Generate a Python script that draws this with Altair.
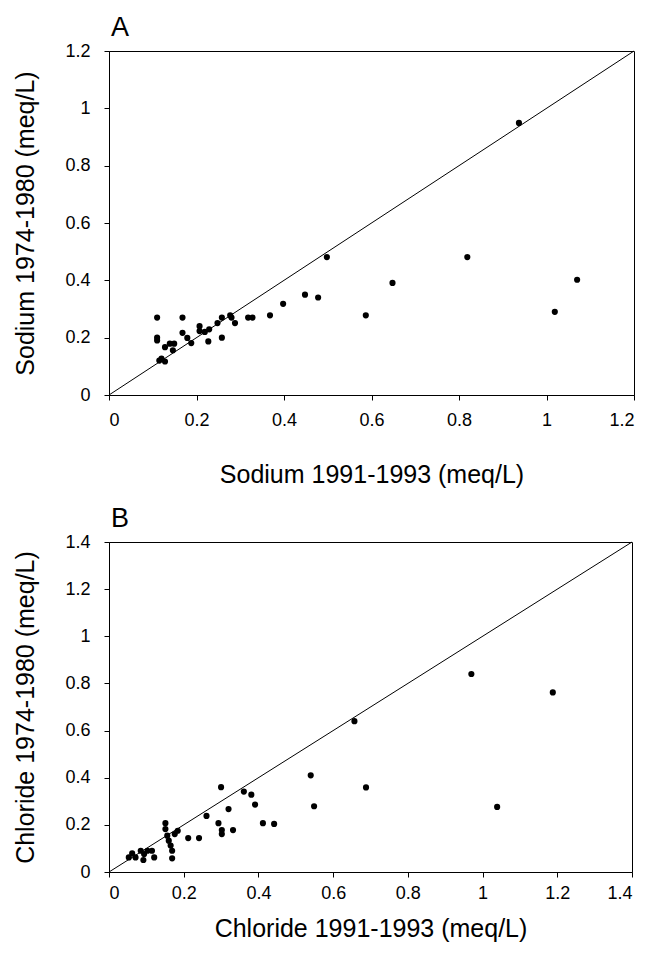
import altair as alt
import pandas as pd

# Panel A: sodium
na_1991 = [0.11, 0.11, 0.11, 0.115, 0.12, 0.128, 0.128, 0.139, 0.149, 0.146,
           0.168, 0.168, 0.179, 0.188, 0.207, 0.207, 0.219, 0.229, 0.227, 0.248,
           0.258, 0.258, 0.277, 0.28, 0.288, 0.318, 0.328, 0.368, 0.398, 0.448,
           0.478, 0.498, 0.587, 0.648, 0.819, 0.937, 1.019, 1.07]
na_1974 = [0.27, 0.20, 0.19, 0.12, 0.127, 0.117, 0.167, 0.179, 0.179, 0.156,
           0.27, 0.217, 0.199, 0.181, 0.24, 0.223, 0.22, 0.229, 0.187, 0.251,
           0.27, 0.20, 0.278, 0.27, 0.251, 0.27, 0.27, 0.278, 0.318, 0.35,
           0.34, 0.481, 0.278, 0.391, 0.481, 0.949, 0.29, 0.402]

# Panel B: chloride
cl_1991 = [0.30, 0.361, 0.381, 0.391, 0.32, 0.261, 0.293, 0.302, 0.302, 0.332,
           0.412, 0.442, 0.212, 0.241, 0.151, 0.151, 0.156, 0.160, 0.165, 0.169,
           0.169, 0.184, 0.176, 0.053, 0.062, 0.071, 0.085, 0.094, 0.092, 0.103,
           0.115, 0.121, 0.54, 0.549, 0.657, 0.688, 1.039, 1.188, 0.97]
cl_1974 = [0.36, 0.341, 0.328, 0.286, 0.267, 0.238, 0.207, 0.178, 0.161, 0.178,
           0.207, 0.204, 0.144, 0.144, 0.207, 0.182, 0.154, 0.133, 0.112, 0.09,
           0.058, 0.175, 0.161, 0.062, 0.079, 0.062, 0.09, 0.076, 0.051, 0.09,
           0.09, 0.062, 0.41, 0.279, 0.64, 0.359, 0.276, 0.762, 0.84]

ticks_a = [0, 0.2, 0.4, 0.6, 0.8, 1, 1.2]
ticks_b = [0, 0.2, 0.4, 0.6, 0.8, 1, 1.2, 1.4]

FONT = "Liberation Sans"


def panel(xs, ys, ticks, xtitle, ytitle, label, w, h, xlabpad, xtitlepad):
    pts = pd.DataFrame({"x": xs, "y": ys})
    diag = pd.DataFrame({"x": [ticks[0], ticks[-1]], "y": [ticks[0], ticks[-1]]})
    sc = alt.Scale(domain=[ticks[0], ticks[-1]], nice=False, zero=True)
    xax = alt.Axis(values=ticks, format="~g", title=xtitle,
                   labelPadding=xlabpad, titlePadding=xtitlepad)
    yax = alt.Axis(values=ticks, format="~g", title=ytitle,
                   labelPadding=14, titlePadding=26)
    line = alt.Chart(diag).mark_line(color="black", strokeWidth=1).encode(
        x=alt.X("x:Q", scale=sc, axis=xax),
        y=alt.Y("y:Q", scale=sc, axis=yax),
    )
    dots = alt.Chart(pts).mark_circle(size=38, color="black", opacity=1).encode(
        x=alt.X("x:Q", scale=sc, axis=xax),
        y=alt.Y("y:Q", scale=sc, axis=yax),
    )
    return alt.layer(line, dots).properties(
        width=w, height=h,
        title=alt.TitleParams(label, anchor="start", frame="group", fontSize=27,
                              fontWeight="normal", font=FONT, offset=0,
                              color="black", dx=2),
    )


a = panel(na_1991, na_1974, ticks_a, "Sodium 1991-1993 (meq/L)",
          "Sodium 1974-1980 (meq/L)", "A", 525, 344, 11, 33)
b = panel(cl_1991, cl_1974, ticks_b, "Chloride 1991-1993 (meq/L)",
          "Chloride 1974-1980 (meq/L)", "B", 523, 330, 7, 14)

chart = alt.vconcat(a, b, spacing=16).configure_view(
    stroke="black", strokeWidth=1
).configure_axis(
    grid=False, domainColor="black", tickColor="black", tickSize=5,
    labelFont=FONT, titleFont=FONT, labelFontSize=18, titleFontSize=25,
    labelColor="black", titleColor="black", titleFontWeight="normal",
)

chart.save("out.html", embed_options={"renderer": "svg", "actions": False})
